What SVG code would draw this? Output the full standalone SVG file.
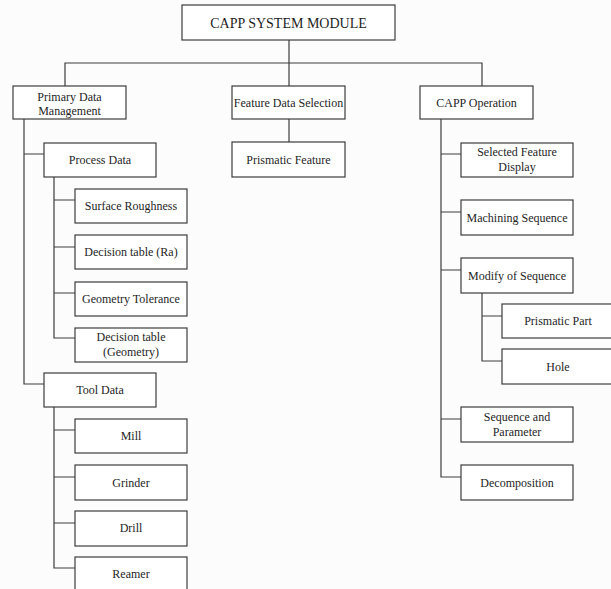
<svg xmlns="http://www.w3.org/2000/svg" width="611" height="589" viewBox="0 0 611 589" font-family="'Liberation Serif', 'Times New Roman', Times, serif">
  <style>
    .box { fill: #ffffff; stroke: #3c3c3c; stroke-width: 1.2; }
    .lbl { font-family: 'Liberation Serif', 'Times New Roman', Times, serif; font-size: 12px; fill: #1e1e1e; text-anchor: middle; }
    .title { font-size: 14px; }
    .wire { fill: none; stroke: #3c3c3c; stroke-width: 1.2; }
  </style>
  <rect width="611" height="589" fill="#fcfcfc"/>

  <!-- tree connectors -->
  <g id="connectors" class="wire">
    <path d="M289 40 V86"/>
    <path d="M65 86 V63 H482 V86"/>
    <path d="M289 119 V142"/>
    <path d="M24 119 V384 H44 M24 154 H44"/>
    <path d="M54 177 V338 H75 M54 200 H75 M54 247 H75 M54 293 H75"/>
    <path d="M54 407 V568 H75 M54 430 H75 M54 477 H75 M54 523 H75"/>
    <path d="M441 119 V477 H461 M441 154 H461 M441 212 H461 M441 270 H461 M441 419 H461"/>
    <path d="M482 293 V361 H502 M482 316 H502"/>
  </g>

  <g id="capp-system-module">
    <rect class="box" x="182" y="5" width="213" height="35"/>
    <text class="lbl title" x="288.5" y="27.5">CAPP SYSTEM MODULE</text>
  </g>

  <g id="primary-data-management">
    <rect class="box" x="13" y="86" width="113" height="33"/>
    <text class="lbl" x="69.5" y="101">Primary Data</text>
    <text class="lbl" x="69.5" y="115">Management</text>
  </g>
  <g id="feature-data-selection">
    <rect class="box" x="232" y="86" width="113" height="33"/>
    <text class="lbl" x="288.5" y="107">Feature Data Selection</text>
  </g>
  <g id="capp-operation">
    <rect class="box" x="420" y="86" width="113" height="33"/>
    <text class="lbl" x="476.5" y="107">CAPP Operation</text>
  </g>

  <g id="prismatic-feature">
    <rect class="box" x="232" y="142" width="113" height="35"/>
    <text class="lbl" x="288.5" y="163.5">Prismatic Feature</text>
  </g>

  <!-- primary data branch -->
  <g id="process-data">
    <rect class="box" x="44" y="143" width="112" height="34"/>
    <text class="lbl" x="100" y="164">Process Data</text>
  </g>
  <g id="surface-roughness">
    <rect class="box" x="75" y="189" width="112" height="34"/>
    <text class="lbl" x="131" y="210">Surface Roughness</text>
  </g>
  <g id="decision-table-ra">
    <rect class="box" x="75" y="235" width="112" height="34"/>
    <text class="lbl" x="131" y="256">Decision table (Ra)</text>
  </g>
  <g id="geometry-tolerance">
    <rect class="box" x="75" y="282" width="112" height="34"/>
    <text class="lbl" x="131" y="303">Geometry Tolerance</text>
  </g>
  <g id="decision-table-geometry">
    <rect class="box" x="75" y="328" width="112" height="34"/>
    <text class="lbl" x="131" y="341">Decision table</text>
    <text class="lbl" x="131" y="355.5">(Geometry)</text>
  </g>
  <g id="tool-data">
    <rect class="box" x="44" y="373" width="112" height="34"/>
    <text class="lbl" x="100" y="394">Tool Data</text>
  </g>
  <g id="mill">
    <rect class="box" x="75" y="419" width="112" height="34"/>
    <text class="lbl" x="131" y="440">Mill</text>
  </g>
  <g id="grinder">
    <rect class="box" x="75" y="465" width="112" height="35"/>
    <text class="lbl" x="131" y="486.5">Grinder</text>
  </g>
  <g id="drill">
    <rect class="box" x="75" y="511" width="112" height="35"/>
    <text class="lbl" x="131" y="532">Drill</text>
  </g>
  <g id="reamer">
    <rect class="box" x="75" y="557" width="112" height="35"/>
    <text class="lbl" x="131" y="578">Reamer</text>
  </g>

  <!-- CAPP operation branch -->
  <g id="selected-feature-display">
    <rect class="box" x="461" y="143" width="112" height="34"/>
    <text class="lbl" x="517" y="156">Selected Feature</text>
    <text class="lbl" x="517" y="170.5">Display</text>
  </g>
  <g id="machining-sequence">
    <rect class="box" x="461" y="200" width="112" height="35"/>
    <text class="lbl" x="517" y="221.5">Machining Sequence</text>
  </g>
  <g id="modify-of-sequence">
    <rect class="box" x="461" y="258" width="112" height="35"/>
    <text class="lbl" x="517" y="279.5">Modify of Sequence</text>
  </g>
  <g id="prismatic-part">
    <rect class="box" x="502" y="304" width="112" height="34"/>
    <text class="lbl" x="558" y="325">Prismatic Part</text>
  </g>
  <g id="hole">
    <rect class="box" x="502" y="349" width="112" height="35"/>
    <text class="lbl" x="558" y="370.5">Hole</text>
  </g>
  <g id="sequence-and-parameter">
    <rect class="box" x="461" y="407" width="112" height="35"/>
    <text class="lbl" x="517" y="421">Sequence and</text>
    <text class="lbl" x="517" y="435.5">Parameter</text>
  </g>
  <g id="decomposition">
    <rect class="box" x="461" y="465" width="112" height="35"/>
    <text class="lbl" x="517" y="486.5">Decomposition</text>
  </g>
</svg>
